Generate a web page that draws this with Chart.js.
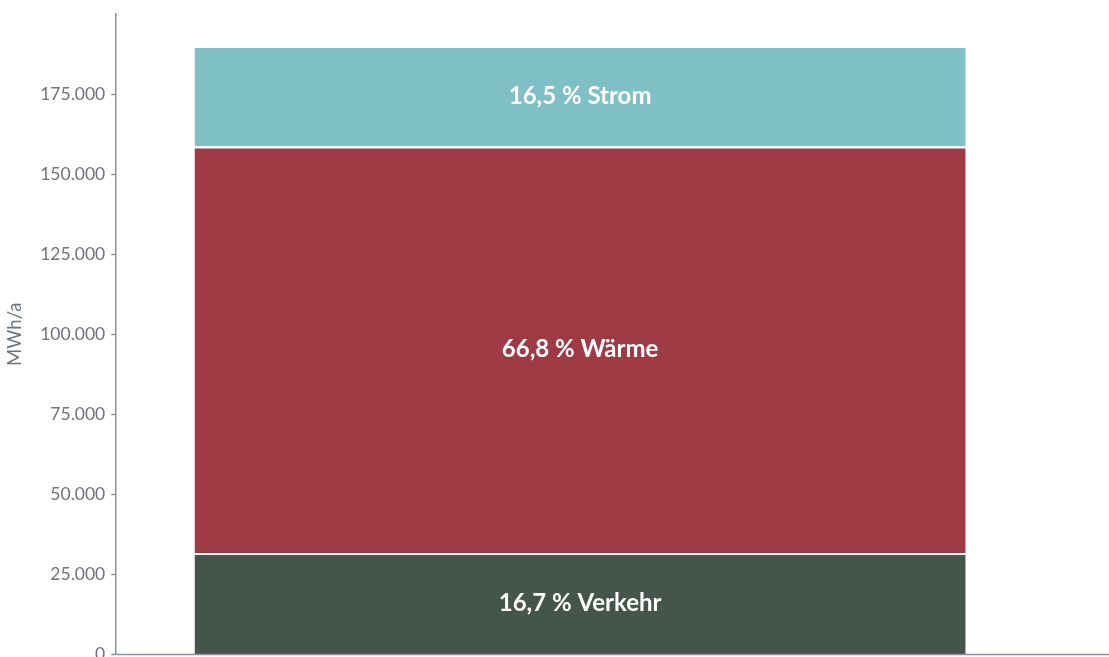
<!DOCTYPE html>
<html lang="de">
<head>
<meta charset="utf-8">
<title>Endenergieverbrauch</title>
<script src="https://cdn.jsdelivr.net/npm/chart.js@4"></script>
<style>
  html, body { margin: 0; padding: 0; background: #fff; overflow: hidden; }
  #wrap { position: relative; width: 1109px; height: 671px; }
</style>
</head>
<body>
<div id="wrap"><canvas id="energyChart"></canvas></div>
<script>
// Werte in MWh/a
const categories = ['Gesamt'];
const sectors = ['Verkehr', 'Wärme', 'Strom'];
const values = [31730, 126920, 31350];
const colors = ['#46554b', '#9e3a43', '#7fbfc6'];
const yTicks = [0, 25000, 50000, 75000, 100000, 125000, 150000, 175000];
const yMax = 200000;

const total = values.reduce((a, b) => a + b, 0);
const fmt = n => String(n).replace(/\B(?=(\d{3})+(?!\d))/g, '.');
const pct = v => (v / total * 100).toFixed(1).replace('.', ',');

const axisGray = '#8c9199';
const textGray = '#6f747c';

// Beschriftung mitten im Balkensegment
const segmentLabels = {
  id: 'segmentLabels',
  afterDatasetsDraw(chart) {
    const ctx = chart.ctx;
    ctx.save();
    ctx.fillStyle = '#fff';
    ctx.font = 'bold 24px Lato, sans-serif';
    ctx.textAlign = 'center';
    ctx.textBaseline = 'middle';
    chart.data.datasets.forEach((ds, i) => {
      const bar = chart.getDatasetMeta(i).data[0];
      const c = bar.getCenterPoint();
      ctx.fillText(pct(ds.data[0]) + ' % ' + ds.label, c.x, c.y);
    });
    ctx.restore();
  }
};

// x-Achsenlinie bis zum rechten Rand
const baseLine = {
  id: 'baseLine',
  afterDraw(chart) {
    const { ctx, chartArea } = chart;
    const y = chart.scales.y.getPixelForValue(0);
    ctx.save();
    ctx.strokeStyle = axisGray;
    ctx.lineWidth = 1.5;
    ctx.beginPath();
    ctx.moveTo(chartArea.left, y);
    ctx.lineTo(chart.width, y);
    ctx.stroke();
    ctx.restore();
  }
};

new Chart(document.getElementById('energyChart'), {
  type: 'bar',
  data: {
    labels: categories,
    datasets: sectors.map((s, i) => ({
      label: s,
      data: [values[i]],
      backgroundColor: colors[i],
      borderColor: '#fff',
      borderWidth: 2,
      barPercentage: 0.835,
      categoryPercentage: 1
    }))
  },
  options: {
    responsive: true,
    maintainAspectRatio: false,
    animation: false,
    layout: { padding: { top: 0, left: 4, right: 65, bottom: 0 } },
    plugins: {
      legend: { display: false },
      tooltip: { enabled: false }
    },
    scales: {
      x: {
        stacked: true,
        ticks: { display: false },
        grid: { display: false },
        border: { display: false }
      },
      y: {
        stacked: true,
        min: 0,
        max: yMax,
        afterBuildTicks(scale) {
          scale.ticks = yTicks.concat([yMax]).map(v => ({ value: v }));
        },
        ticks: {
          color: textGray,
          font: ctx => ({
            family: 'Lato, sans-serif',
            size: ctx.tick && ctx.tick.value === yMax ? 13.3 : 17.5
          }),
          padding: 6,
          callback: v => (v === yMax ? '' : fmt(v))
        },
        grid: {
          drawOnChartArea: false,
          tickLength: 5,
          tickColor: ctx => (ctx.tick && ctx.tick.value === yMax ? 'rgba(0,0,0,0)' : axisGray),
          tickWidth: 1.5
        },
        border: { display: true, color: axisGray, width: 1.5 },
        title: {
          display: true,
          text: 'MWh/a',
          color: textGray,
          font: { family: 'Lato, sans-serif', size: 18.5 },
          padding: { top: 0, bottom: 8 }
        }
      }
    }
  },
  plugins: [segmentLabels, baseLine]
});
</script>
</body>
</html>
